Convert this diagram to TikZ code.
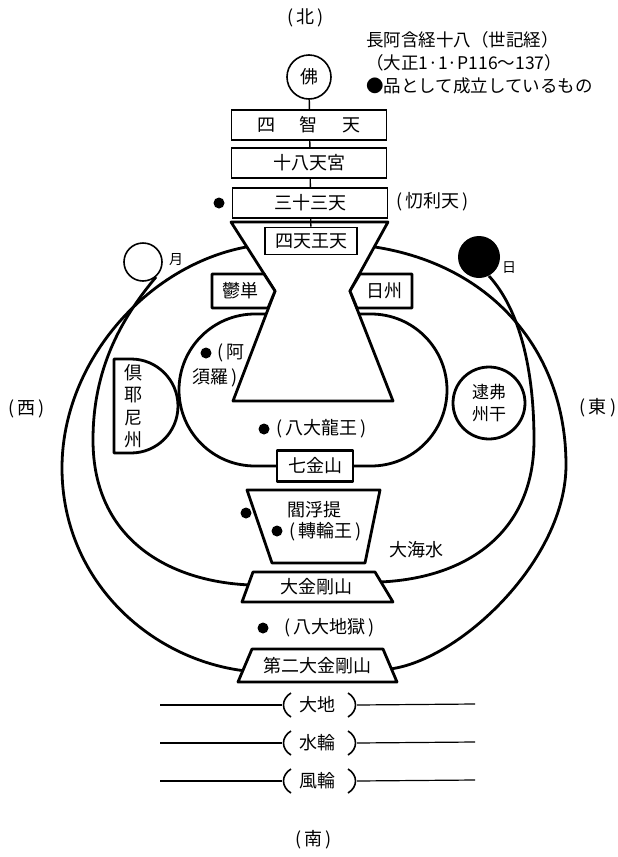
\documentclass[tikz,border=0pt]{standalone}
\usepackage{fontspec}
\setmainfont{Noto Sans CJK JP}
\newcommand\myfs[1]{\fontsize{#1}{#1}\selectfont}
\begin{document}
\begin{tikzpicture}[x=1pt,y=-1pt,
  heavy/.style={line width=2.8pt, line join=round},
  thinline/.style={line width=1.4pt},
  topbox/.style={draw, line width=1.6pt, fill=white, minimum width=155pt, minimum height=30pt, inner sep=0pt, font=\myfs{18}},
  lbl/.style={inner sep=0pt, font=\myfs{18}},
  small/.style={inner sep=0pt, font=\myfs{14}},
  dot/.style={circle, fill=black, minimum size=11pt, inner sep=0pt},
]
\useasboundingbox (0,0) rectangle (618,857);

% ---- great outer ring (to the second great vajra mountains)
\coordinate (oL0) at (252,246);
\coordinate (oL1) at (62,468);
\coordinate (oL2) at (246,671);
\coordinate (oR0) at (368,246);
\coordinate (oR1) at (566,465);
\coordinate (oR2) at (390,669);
\draw[heavy] (oL0) .. controls (150,262) and (62,360) .. (oL1)
                   .. controls (62,580) and (150,660) .. (oL2);
\draw[heavy] (oR0) .. controls (490,262) and (566,350) .. (oR1)
                   .. controls (566,560) and (460,660) .. (oR2);

% ---- inner ring (great ocean, to the great vajra mountains)
\coordinate (iL0) at (156,277);
\coordinate (iL1) at (93,440);
\coordinate (iL2) at (251,585);
\coordinate (iR0) at (489,276);
\coordinate (iR1) at (534,440);
\coordinate (iR2) at (380,582);
\draw[heavy] (iL0) .. controls (120,320) and (93,370) .. (iL1)
                   .. controls (93,540) and (170,582) .. (iL2);
\draw[heavy] (iR0) .. controls (520,310) and (534,370) .. (iR1)
                   .. controls (534,530) and (470,578) .. (iR2);

% ---- seven golden mountains ring
\draw[heavy, rounded corners=76pt] (179,314) rectangle (447,466);

% ---- western continent (half disc)
\draw[heavy, fill=white] (114,359) -- (131,359) arc[start angle=90, end angle=-90, radius=47pt] -- (114,453) -- cycle;
\node[align=center, inner sep=0pt, font=\fontsize{18}{22.5}\selectfont] (kuyani) at (133,406) {倶\\耶\\尼\\州};

% ---- Sumeru (hourglass)
\draw[heavy, fill=white] (231,222) -- (388,222) -- (350,291) -- (393,401) -- (233,401) -- (275,291) -- cycle;

% ---- heavens column
\node[circle, draw, line width=1.6pt, fill=white, minimum size=44pt, inner sep=0pt, font=\myfs{18}] (butsu) at (309,77) {佛};
\node[draw, line width=1.6pt, fill=white, minimum width=92pt, minimum height=27pt, inner sep=0pt, font=\myfs{18}] (shitenno) at (311,241) {四天王天};
\draw[thinline] (butsu) -- (shitenno);
\node[topbox] (shichi) at (309,125) {四\hspace{25pt}智\hspace{25pt}天};
\node[topbox] (juhachi) at (309,163) {十八天宮};
\node[topbox] (sanju) at (310,203) {三十三天};
\node[dot] (dsanju) at (219,203) {};
\node[lbl] (tori) at (433,202) {(\,忉利天\,)};

% ---- continents beside Sumeru
\draw[heavy, fill=white] (212,274) -- (264,274) -- (275,291) -- (268,308) -- (212,308) -- cycle;
\node[lbl] (uttan) at (240,291) {鬱単};
\draw[heavy, fill=white] (350,291) -- (360,274) -- (412,274) -- (412,308) -- (357,308) -- cycle;
\node[lbl] (nisshu) at (384,291) {日州};

% ---- moon and sun
\node[circle, draw, line width=1.6pt, fill=white, minimum size=38pt, inner sep=0pt] (moon) at (143,262) {};
\node[small] (moonl) at (176,260) {月};
\node[circle, fill=black, minimum size=42pt, inner sep=0pt] (sun) at (479,257) {};
\node[small] (sunl) at (509,268) {日};

% ---- eastern continent
\node[circle, draw, heavy, fill=white, minimum size=72pt, inner sep=0pt, align=center, font=\fontsize{17}{22}\selectfont] (tobutsu) at (489,403) {逮弗\\州干};

% ---- asura and dragon kings
\node[dot] (dasura) at (206,353) {};
\node[lbl] (asura1) at (231,353) {(\,阿};
\node[lbl] (asura2) at (215,378) {須羅\,)};
\node[dot] (dryu) at (264,429) {};
\node[lbl] (ryuo) at (322,429) {(\,八大龍王\,)};

% ---- seven golden mountains label
\node[draw, heavy, fill=white, minimum width=76pt, minimum height=31pt, inner sep=0pt, font=\myfs{18}] (shichikin) at (315,466) {七金山};

% ---- Jambudvipa
\draw[heavy, fill=white] (247,490) -- (380,490) -- (365,563) -- (272,563) -- cycle;
\node[lbl] (enbu) at (314,510) {閻浮提};
\node[dot] (denbu) at (246,513) {};
\node[dot] (dtenrin) at (277,531) {};
\node[lbl] (tenrin) at (326,532) {(\,轉輪王\,)};
\node[lbl] (kaisui) at (416,550) {大海水};

% ---- great vajra mountains
\draw[heavy, fill=white] (253,572) -- (375,572) -- (393,602) -- (242,602) -- cycle;
\node[lbl] (daikongo) at (316,587) {大金剛山};
\node[dot] (djigoku) at (263,628) {};
\node[lbl] (jigoku) at (330,628) {(\,八大地獄\,)};
\draw[heavy, fill=white] (252,649) -- (383,649) -- (397,682) -- (238,682) -- cycle;
\node[lbl] (daini) at (317,666) {第二大金剛山};

% ---- earth, water, wind layers
\foreach \yy/\txt/\nm in {705/大地/daichi, 743/水輪/suirin, 781/風輪/furin}{
  \node[lbl] (\nm) at (317,\yy) {\txt};
  \coordinate (\nm L) at (160,\yy);
  \coordinate (\nm B) at (282,\yy);
  \coordinate (\nm C) at (357,\yy);
  \coordinate (\nm R) at (475,\yy-1);
  \draw[line width=1.2pt] (\nm L) -- (\nm B);
  \draw[line width=1.2pt] (\nm C) -- (\nm R);
  \draw[line width=1.6pt] (291,\yy-12) .. controls (281,\yy-6) and (281,\yy+6) .. (291,\yy+12);
  \draw[line width=1.6pt] (348,\yy-12) .. controls (358,\yy-6) and (358,\yy+6) .. (348,\yy+12);
}

% ---- directions
\node[lbl] (north) at (306,18) {(\,北\,)};
\node[lbl] (west) at (27,409) {(\,西\,)};
\node[lbl] (east) at (598,408) {(\,東\,)};
\node[lbl] (south) at (314,840) {(\,南\,)};

% ---- source note
\node[anchor=west, inner sep=0pt, font=\myfs{17.5}] (src1) at (366,40) {長阿含経十八（世記経）};
\node[anchor=west, inner sep=0pt, font=\myfs{17.5}] (src2) at (366,63) {（大正1·1·P116〜137）};
\node[anchor=west, inner sep=0pt, font=\myfs{17.5}] (src3) at (366,86) {●品として成立しているもの};
\end{tikzpicture}
\end{document}
